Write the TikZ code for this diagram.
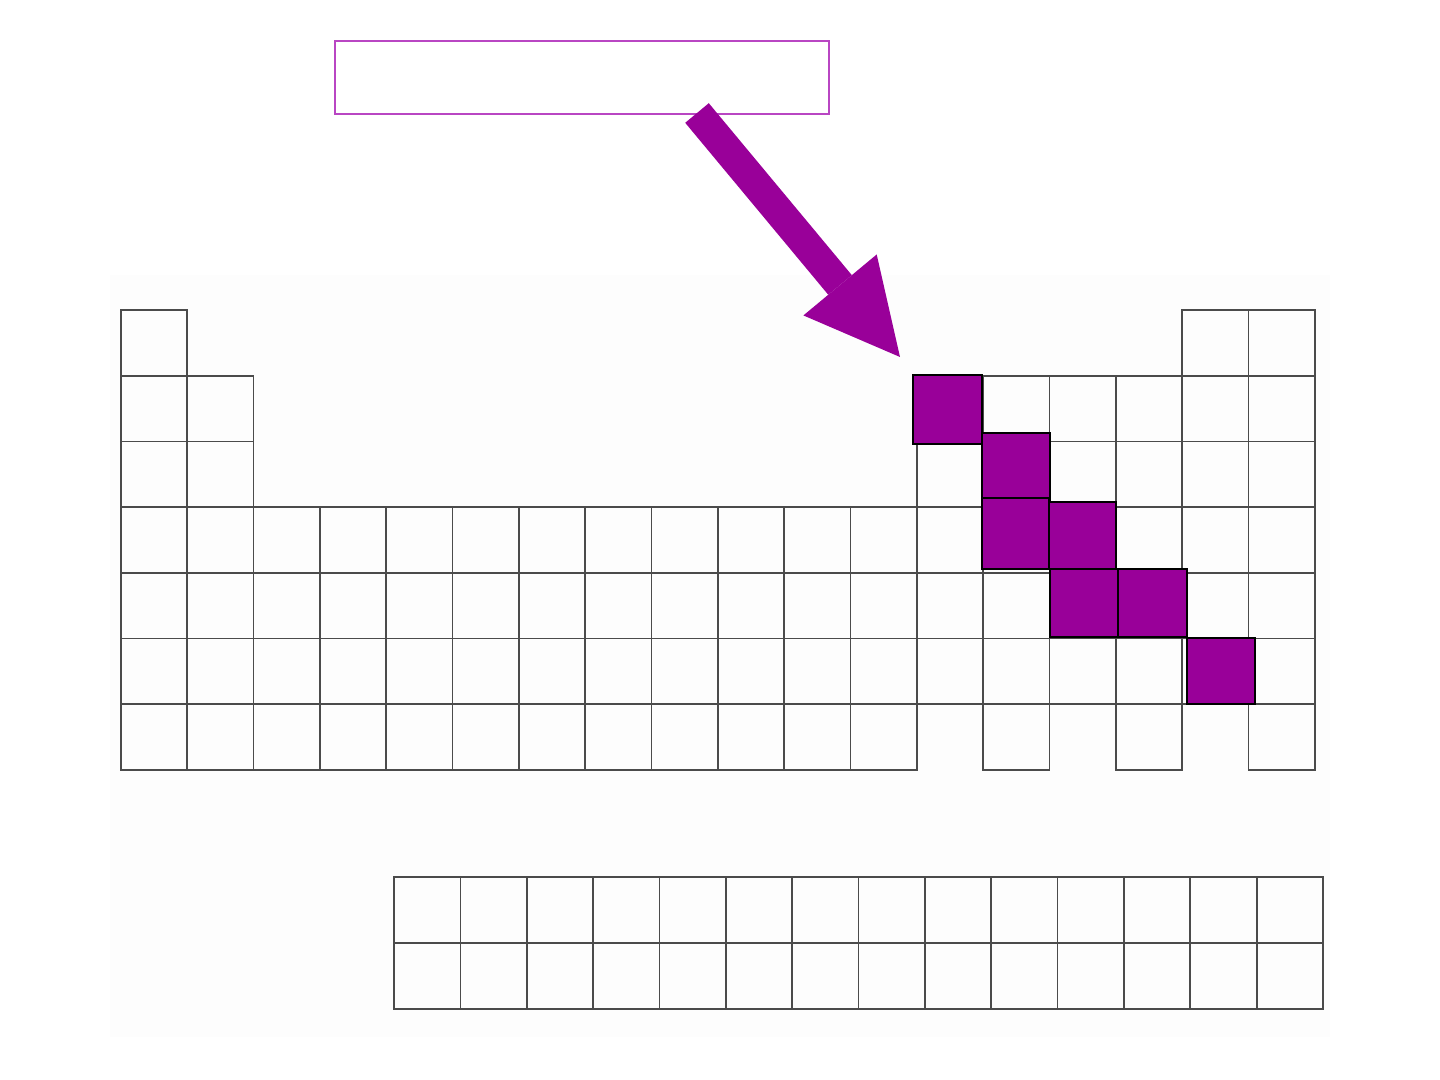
\documentclass[tikz,border=0pt]{standalone}
\usepackage{xcolor}
\usetikzlibrary{arrows.meta}

\begin{document}
\begin{tikzpicture}[x=0.75pt,y=0.75pt,yscale=-1,xscale=1,
  cell/.style={draw={rgb, 255:red, 75; green, 75; blue, 75 }, line width=1.25pt},
  metalloid/.style={draw=black, fill={rgb, 255:red, 153; green, 0; blue, 153 }, line width=1.4pt},
  labelbox/.style={draw={rgb, 255:red, 185; green, 70; blue, 195 }, line width=1.5pt, inner sep=0pt, minimum width=370.5pt, minimum height=54.75pt},
  pointer/.style={color={rgb, 255:red, 153; green, 0; blue, 153 }, line width=23pt, -{Triangle[length=70.3pt, width=71.5pt, line width=0pt]}}]
\useasboundingbox (0,0) rectangle (1440,1080);

%Shape: Rectangle [faint backdrop]
\fill [color={rgb, 255:red, 253; green, 253; blue, 253 }] (110,275) rectangle (1330,1037);

%Shape: Grid [period 1]
\foreach \c in {0,16,17} \draw [cell] ({121+66.33*\c},310) rectangle ++(66.33,65.71);
%Shape: Grid [periods 2 and 3]
\foreach \r in {1,2} \foreach \c in {0,1,12,13,14,15,16,17} \draw [cell] ({121+66.33*\c},{310+65.71*\r}) rectangle ++(66.33,65.71);
%Shape: Grid [periods 4 to 6]
\foreach \r in {3,4,5} \foreach \c in {0,...,17} \draw [cell] ({121+66.33*\c},{310+65.71*\r}) rectangle ++(66.33,65.71);
%Shape: Grid [period 7]
\foreach \c in {0,...,11,13,15,17} \draw [cell] ({121+66.33*\c},704) rectangle ++(66.33,65.71);
%Shape: Grid [lanthanides and actinides]
\foreach \r in {0,1} \foreach \c in {0,...,13} \draw [cell] ({394+66.36*\c},{877+66*\r}) rectangle ++(66.36,66);

%Shape: Rectangle [metalloids]
\draw [metalloid] (913,375) rectangle (982,444);
\draw [metalloid] (982,433) rectangle (1050,500);
\draw [metalloid] (982,498) rectangle (1049,569);
\draw [metalloid] (1049,502) rectangle (1116,569);
\draw [metalloid] (1050,569) rectangle (1118,637);
\draw [metalloid] (1118,569) rectangle (1187,637);
\draw [metalloid] (1187,638) rectangle (1255,704);

% Text Node
\node [labelbox] (name box) at (582,77.5) {};

%Straight Lines [pointer]
\coordinate (pointer tail) at (697,113);
\coordinate (pointer tip) at (900,357);
\draw [pointer] (pointer tail) -- (pointer tip);
\end{tikzpicture}
\end{document}
